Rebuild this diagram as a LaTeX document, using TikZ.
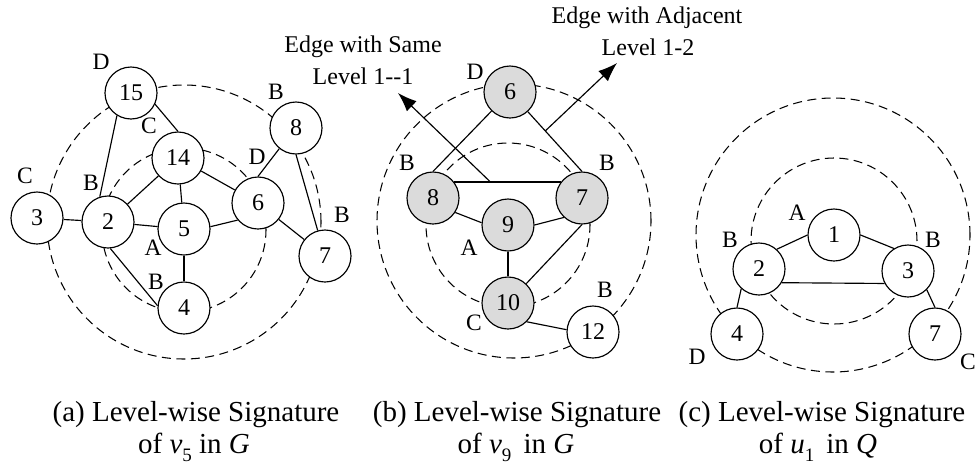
\documentclass[tikz,border=0pt]{standalone}
\usepackage{fontspec}
\setmainfont{Liberation Serif}
\usetikzlibrary{arrows.meta,calc}
\newcommand{\subn}[1]{\raisebox{-0.28em}{\fontsize{19}{19}\selectfont #1}}
\begin{document}
\begin{tikzpicture}[x=1pt,y=-1pt,
  vtx/.style={circle,draw,line width=1.15pt,minimum size=52pt,inner sep=0pt,fill=white,font=\fontsize{24}{27}\selectfont},
  gvtx/.style={vtx,fill=gray!28},
  lbl/.style={font=\fontsize{23.5}{26}\selectfont,inner sep=0pt},
  link/.style={line width=1.15pt},
  ring/.style={line width=1.05pt,dash pattern=on 9pt off 5.5pt},
  notetxt/.style={font=\fontsize{24}{28}\selectfont,inner sep=0pt},
  captxt/.style={font=\fontsize{29}{33}\selectfont,inner sep=0pt,anchor=base},
  ptr/.style={line width=1.15pt,-{Latex[length=19pt,width=14pt]}}
]
\useasboundingbox (0,0) rectangle (978,464);

% ---------- dashed level rings ----------
\draw[ring] (184,222) circle[radius=137pt];
\draw[ring] (184,230) circle[radius=82pt];
\draw[ring] (514,221) circle[radius=137pt];
\draw[ring] (508,225) circle[radius=82pt];
\draw[ring] (833,235) circle[radius=137pt];
\draw[ring] (834,241) circle[radius=83pt];

% ---------- panel (a) ----------
\node[vtx] (a15) at (131,93) {15};
\node[vtx] (a14) at (178,158) {14};
\node[vtx] (a8)  at (296,128) {8};
\node[vtx] (a6)  at (258,203) {6};
\node[vtx] (a3)  at (37,218) {3};
\node[vtx] (a2)  at (108,222) {2};
\node[vtx] (a5)  at (184,229) {5};
\node[vtx] (a7)  at (325,256) {7};
\node[vtx] (a4)  at (184,308) {4};

\draw[link] (a15.-122) -- (a2.108);
\draw[link] (a15.-25) -- (a14.north);
\draw[link] (a14) -- (a2);
\draw[link] (a14) -- (a5);
\draw[link] (a14) -- (a6);
\draw[link] (a3) -- (a2);
\draw[link] (a2) -- (a5);
\draw[link] (a2.-85) -- (a4.175);
\draw[link] (a5.5) -- (a6.-140);
\draw[link] (a5) -- (a4);
\draw[link] (a8.-129) -- (a6.north);
\draw[link] (a6) -- (a7);
\draw[link] (a8.south) -- (a7.106);

\node[lbl] (la1) at (101,62) {D};
\node[lbl] (la2) at (149,126) {C};
\node[lbl] (la3) at (276,92) {B};
\node[lbl] (la4) at (257,157) {D};
\node[lbl] (la5) at (25,176) {C};
\node[lbl] (la6) at (91,183) {B};
\node[lbl] (la7) at (153,248) {A};
\node[lbl] (la8) at (156,282) {B};
\node[lbl] (la9) at (342,215) {B};

% ---------- panel (b) ----------
\node[gvtx] (b6)  at (510,92) {6};
\node[gvtx] (b8)  at (433,198) {8};
\node[gvtx] (b7)  at (582,198) {7};
\node[gvtx] (b9)  at (508,225) {9};
\node[gvtx] (b10) at (508,303) {10};
\node[vtx]  (b12) at (593,332) {12};

\draw[link] (b6) -- (b8.north);
\draw[link] (b6) -- (b7.north);
\draw[link] (b8.37) -- (b7.143);
\draw[link] (b8.-33) -- (b9.175);
\draw[link] (b9.east) -- (b7.-133);
\draw[link] (b9) -- (b10);
\draw[link] (b10) -- (b7.south);
\draw[link] (b10.-45) -- (b12.175);

\coordinate (s1) at ($(b8.37)!0.34!(b7.143)$);
\coordinate (t1) at (398,93);
\coordinate (s2) at ($(b6)!0.49!(b7.north)$);
\coordinate (t2) at (617,63);
\draw[ptr] (s1) -- (t1);
\draw[ptr] (s2) -- (t2);

\node[notetxt] (n1a) at (363,47) {Edge with Same};
\node[notetxt] (n1b) at (363,76) {Level 1-{}-1};
\node[notetxt] (n2a) at (647,18) {Edge with Adjacent};
\node[notetxt] (n2b) at (648,47) {Level 1-2};

\node[lbl] (lb1) at (475,72) {D};
\node[lbl] (lb2) at (407,163) {B};
\node[lbl] (lb3) at (607,163) {B};
\node[lbl] (lb4) at (469,248) {A};
\node[lbl] (lb5) at (605,290) {B};
\node[lbl] (lb6) at (474,323) {C};

% ---------- panel (c) ----------
\node[vtx] (c1) at (834,235) {1};
\node[vtx] (c2) at (759,269) {2};
\node[vtx] (c3) at (908,271) {3};
\node[vtx] (c4) at (737,334) {4};
\node[vtx] (c7) at (935,334) {7};

\draw[link] (c1.west) -- (c2.48);
\draw[link] (c1.east) -- (c3.122);
\draw[link] (c2.-31) -- (c3.-152);
\draw[link] (c2.-132) -- (c4.north);
\draw[link] (c3.-45) -- (c7.north);

\node[lbl] (lc1) at (797,213) {A};
\node[lbl] (lc2) at (730,240) {B};
\node[lbl] (lc3) at (933,240) {B};
\node[lbl] (lc4) at (697,357) {D};
\node[lbl] (lc5) at (968,362) {C};

% ---------- captions ----------
\node[captxt] (ca1) at (196,421) {(a) Level-wise Signature};
\node[captxt] (ca2) at (194,453) {of \textit{v}\subn{5} in \textit{G}};
\node[captxt] (cb1) at (517,421) {(b) Level-wise Signature};
\node[captxt] (cb2) at (516,453) {of \textit{v}\subn{9}\, in \textit{G}};
\node[captxt] (cc1) at (822,421) {(c) Level-wise Signature};
\node[captxt] (cc2) at (818,453) {of \textit{u}\subn{1}\, in \textit{Q}};
\end{tikzpicture}
\end{document}
